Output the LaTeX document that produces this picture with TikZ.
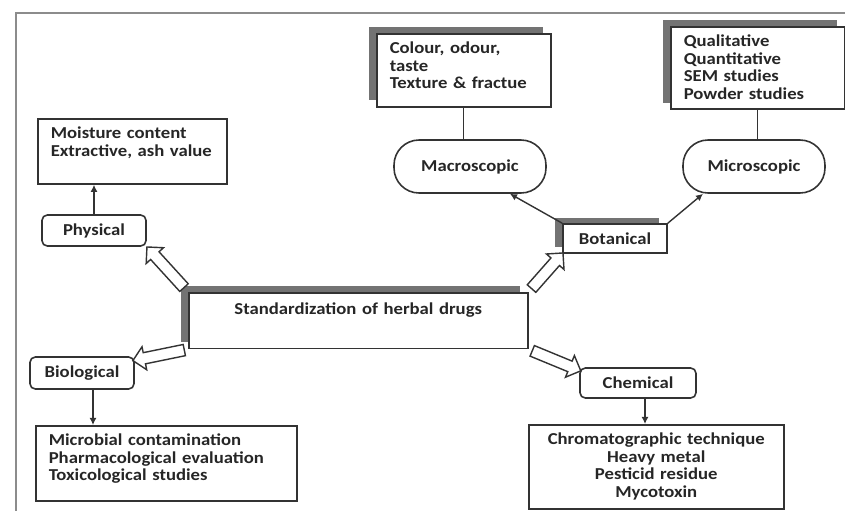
\documentclass[tikz,border=0pt]{standalone}
\usepackage{fontspec}
\setmainfont{Carlito}[FakeStretch=1.12]
\usetikzlibrary{arrows.meta,shapes.arrows,shadows}
\begin{document}
\begin{tikzpicture}[x=0.02cm, y=-0.02cm, font=\fontsize{9.5}{10}\selectfont\bfseries, text=black!85,
  infobox/.style={draw=black!80, line width=0.9pt, fill=white, anchor=north west, align=left, inner xsep=0.26cm, inner ysep=0.16cm},
  mainbox/.style={draw=black!80, line width=0.9pt, fill=white, anchor=north west, align=center, inner xsep=0pt, inner ysep=0.2cm},
  tagbox/.style={draw=black!80, line width=0.9pt, fill=white, rounded corners=3pt, inner sep=0pt},
  viewbox/.style={draw=black!80, line width=0.9pt, fill=white, rounded corners=0.5cm, minimum height=1.06cm, inner sep=0pt},
  shade/.style={drop shadow={shadow xshift=-0.16cm, shadow yshift=0.13cm, fill=black!55, opacity=1}},
  link/.style={draw=black!80, line width=0.8pt, -{Latex[length=4pt,width=4pt]}},
  plain/.style={draw=black!80, line width=0.8pt},
  hollow/.style={single arrow, draw=black!80, line width=0.8pt, fill=white, inner xsep=0pt, inner ysep=0.1cm, text height=0pt, text depth=0pt, single arrow head extend=0.12cm, sloped, allow upside down}]
\useasboundingbox (0,0) rectangle (845,511);
\draw[black!45, line width=0.6pt] (845,13) -- (16,13) -- (16,511);

\node[infobox, text width=3.26cm, text depth=0.75cm] (moist) at (37,118) {Moisture content\\Extractive, ash value};
\node[tagbox, minimum width=2.08cm, minimum height=0.62cm] (phys) at (94,230.5) {Physical};
\node[infobox, shade, text width=2.96cm, text depth=0.91cm] (macbox) at (376,33) {Colour, odour,\\taste\\Texture \& fractue};
\node[viewbox, minimum width=3.04cm] (mac) at (470,166.5) {Macroscopic};
\node[infobox, shade, text width=2.96cm, text depth=1.09cm] (micbox) at (670,26) {Qualitative\\Quantitative\\SEM studies\\Powder studies};
\node[viewbox, minimum width=2.84cm] (mic) at (754,166.5) {Microscopic};
\node[tagbox, shade, sharp corners, minimum width=2.08cm, minimum height=0.58cm] (bot) at (615,238.5) {Botanical};
\node[mainbox, shade, text width=6.78cm, text depth=0.48cm] (cen) at (188,292) {Standardization of herbal drugs};
\node[tagbox, minimum width=2.08cm, minimum height=0.64cm] (bio) at (82,373) {Biological};
\node[infobox, text width=4.7cm, text depth=0.95cm] (biobox) at (35,425) {Microbial contamination\\Pharmacological evaluation\\Toxicological studies};
\node[tagbox, minimum width=2.32cm, minimum height=0.6cm] (chem) at (638,383) {Chemical};
\node[infobox, align=center, text width=4.58cm, text depth=1.13cm] (chembox) at (528,424) {Chromatographic technique\\Heavy metal\\Pesticid residue\\Mycotoxin};

\draw[link] (phys.north) -- (phys.north |- moist.south);
\draw[plain] (macbox.south) -- (macbox.south |- mac.north);
\draw[plain] (micbox.south) -- (micbox.south |- mic.north);
\draw[link] (bot.north west) -- ([xshift=0.8cm]mac.south);
\draw[link] (bot.north east) -- ([xshift=-1.02cm]mic.south);
\draw[link] ([xshift=0.22cm]bio.south) -- ([xshift=0.22cm]bio.south |- biobox.north);
\draw[link] ([xshift=0.14cm]chem.south) -- ([xshift=0.14cm]chem.south |- chembox.north);

\path (cen.north west) -- (phys.south east) node[hollow, midway, minimum height=1.1cm] (tophys) {};
\path (cen.south west) -- ([yshift=-0.08cm]bio.north east) node[hollow, midway, minimum height=1.05cm] (tobio) {};
\path (cen.north east) -- (bot.south west) node[hollow, midway, minimum height=0.95cm] (tobot) {};
\path (cen.south east) -- ([yshift=-0.06cm]chem.north west) node[hollow, midway, minimum height=1.05cm] (tochem) {};
\end{tikzpicture}
\end{document}
